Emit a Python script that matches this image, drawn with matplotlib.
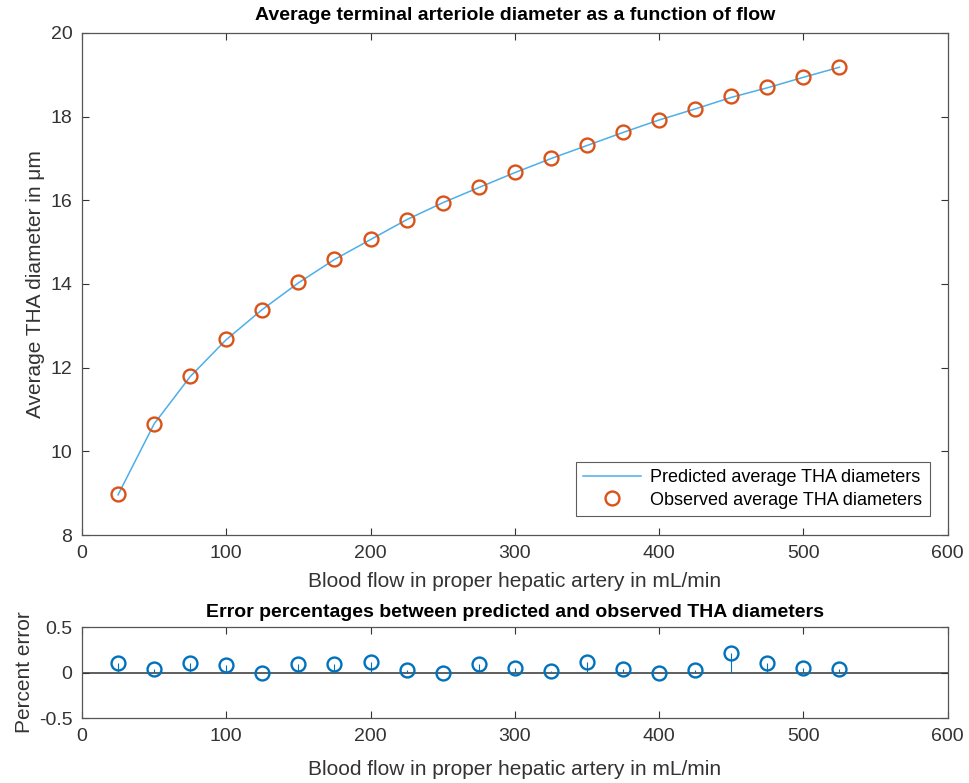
import numpy as np
import matplotlib.pyplot as plt

plt.rcParams['font.family'] = ['Liberation Sans', 'DejaVu Sans']

# blood flow (mL/min)
flow = [25, 50, 75, 100, 125, 150, 175, 200, 225, 250, 275,
        300, 325, 350, 375, 400, 425, 450, 475, 500, 525]

# observed average THA diameter (um)
observed = [8.97, 10.66, 11.80, 12.68, 13.39, 14.04, 14.60, 15.08, 15.54, 15.94, 16.32,
            16.67, 17.00, 17.33, 17.63, 17.92, 18.19, 18.50, 18.71, 18.95, 19.19]

# error percentage between predicted and observed
err = [0.105, 0.04, 0.11, 0.08, -0.007, 0.098, 0.098, 0.116, 0.025, -0.007, 0.095,
       0.05, 0.02, 0.116, 0.044, 0.0, 0.033, 0.215, 0.11, 0.05, 0.044]

predicted = [o * (1 - e / 100) for o, e in zip(observed, err)]

blue = '#0072BD'
lblue = '#4DAEEA'
orange = '#D95319'
axc = '#333333'

fig = plt.figure(figsize=(9.69, 7.83), dpi=100)
ax1 = fig.add_axes([0.0846, 0.3167, 0.8934, 0.6412])
ax2 = fig.add_axes([0.0846, 0.0830, 0.8934, 0.1162])

ax1.plot(flow, predicted, '-', color=lblue, linewidth=1.1, label='Predicted average THA diameters')
ax1.plot(flow, observed, 'o', color=orange, markerfacecolor='none', markersize=10,
         markeredgewidth=1.7, label='Observed average THA diameters', linestyle='none')
ax1.set_xlim(0, 600)
ax1.set_ylim(8, 20)
ax1.set_xticks(range(0, 601, 100))
ax1.set_yticks(range(8, 21, 2))
ax1.set_title('Average terminal arteriole diameter as a function of flow',
              fontsize=14, fontweight='bold', pad=9)
ax1.set_xlabel('Blood flow in proper hepatic artery in mL/min', fontsize=15, color=axc, labelpad=7.5)
ax1.set_ylabel('Average THA diameter in μm', fontsize=15, color=axc, labelpad=4)
leg = ax1.legend(loc='lower right', bbox_to_anchor=(0.979, 0.038), borderaxespad=0,
                 fontsize=13, frameon=True, fancybox=False, edgecolor=axc, borderpad=0.4,
                 handlelength=3.2, handletextpad=0.5, labelspacing=0.3)
leg.get_frame().set_linewidth(0.8)

ml, sl, bl = ax2.stem(flow, err, basefmt=' ')
plt.setp(ml, color=blue, markerfacecolor='none', markersize=10, markeredgewidth=1.7)
plt.setp(sl, color=blue, linewidth=0.8)
ax2.axhline(0, color='#333333', linewidth=1.1, zorder=1)
ax2.set_xlim(0, 600)
ax2.set_ylim(-0.5, 0.5)
ax2.set_xticks(range(0, 601, 100))
ax2.set_yticks([-0.5, 0, 0.5])
ax2.set_yticklabels(['-0.5', '0', '0.5'])
ax2.set_title('Error percentages between predicted and observed THA diameters',
              fontsize=14, fontweight='bold', pad=7)
ax2.set_xlabel('Blood flow in proper hepatic artery in mL/min', fontsize=15, color=axc, labelpad=11)
ax2.set_ylabel('Percent error', fontsize=15, color=axc, labelpad=3)

for ax in (ax1, ax2):
    ax.tick_params(direction='in', length=5, width=0.8, labelsize=14, colors=axc,
                   top=True, right=True, pad=7)
    for s in ax.spines.values():
        s.set_color('#555555')
        s.set_linewidth(0.9)

fig.savefig('out.png', dpi=100)
